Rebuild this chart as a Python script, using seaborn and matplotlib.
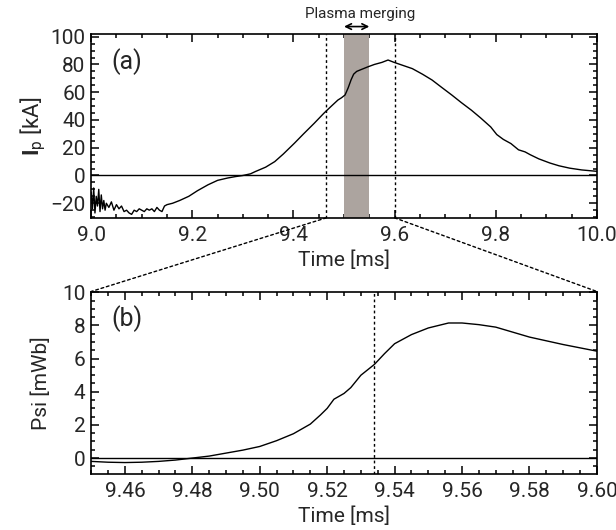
import numpy as np
import pandas as pd
import seaborn as sns
import matplotlib.pyplot as plt
from matplotlib.patches import ConnectionPatch
from matplotlib.ticker import MultipleLocator, FormatStrFormatter

# panel (a): plasma current, noisy start then a smooth pulse
t_a = [9.000, 9.0025, 9.005, 9.0075, 9.010, 9.0125, 9.015, 9.0175, 9.020, 9.0225,
       9.025, 9.0275, 9.030, 9.035, 9.040, 9.045, 9.050, 9.055, 9.060, 9.065,
       9.070, 9.075, 9.080, 9.085, 9.090, 9.095, 9.100, 9.105, 9.110, 9.115,
       9.120, 9.125, 9.130, 9.135, 9.140, 9.145, 9.150,
       9.161, 9.175, 9.193, 9.21, 9.231, 9.25, 9.27, 9.285, 9.30, 9.315, 9.325,
       9.345, 9.363, 9.38, 9.402, 9.42, 9.441, 9.46, 9.475, 9.488, 9.495, 9.502,
       9.508, 9.514, 9.519, 9.525, 9.535, 9.548, 9.56, 9.575, 9.587, 9.599,
       9.615, 9.635, 9.655, 9.674, 9.693, 9.713, 9.732, 9.752, 9.77, 9.79,
       9.802, 9.815, 9.83, 9.845, 9.858, 9.868, 9.885, 9.907, 9.925, 9.946,
       9.97, 10.0]
ip = [-12, -24, -9, -27, -15, -22, -10, -26, -14, -24,
      -18, -25, -20, -23, -19, -25, -21, -24, -22, -26,
      -25, -27, -28, -25, -26, -24, -25, -26, -24, -25,
      -24, -26, -23, -25, -26, -22, -21,
      -20, -18, -15, -11, -6.7, -3.5, -1.8, -0.8, 0, 1.2, 2.9,
      6, 10, 15.5, 23.3, 30, 37.6, 44.8, 50, 54.4, 56, 58,
      63, 69, 73, 75, 76.5, 78.4, 80, 81.5, 83.2, 81.5,
      79.5, 77, 73, 68.8, 63.5, 58, 52.5, 47, 41.5, 35,
      29.5, 26, 23, 18.5, 17, 15, 12, 9, 7, 5.3,
      4, 3]

# panel (b): flux
t_b = [9.45, 9.455, 9.46, 9.465, 9.47, 9.475, 9.48, 9.485, 9.49, 9.495, 9.50,
       9.505, 9.51, 9.515, 9.518, 9.52, 9.522, 9.525, 9.527, 9.53, 9.534,
       9.537, 9.54, 9.545, 9.55, 9.556, 9.56, 9.565, 9.57, 9.58, 9.59, 9.60]
psi = [-0.2, -0.25, -0.27, -0.25, -0.2, -0.12, 0.0, 0.12, 0.3, 0.48, 0.7,
       1.05, 1.47, 2.05, 2.6, 3.0, 3.55, 3.9, 4.25, 5.0, 5.65,
       6.3, 6.9, 7.45, 7.85, 8.15, 8.15, 8.05, 7.9, 7.3, 6.85, 6.45]

merge_start, merge_end = 9.50, 9.55
zoom_lo, zoom_hi = 9.465, 9.60
mark_b = 9.534

df_a = pd.DataFrame({"t": t_a, "ip": ip})
df_b = pd.DataFrame({"t": t_b, "psi": psi})

sns.set_style("ticks")
plt.rcParams['font.family'] = ['Roboto', 'DejaVu Sans']
plt.rcParams['mathtext.fontset'] = 'custom'
plt.rcParams['mathtext.rm'] = 'Roboto'
plt.rcParams['mathtext.bf'] = 'Roboto:bold'
plt.rcParams['axes.linewidth'] = 1.2

fig = plt.figure(figsize=(6.16, 5.30), dpi=100)
ax1 = fig.add_axes([0.148, 0.589, 0.821, 0.347])
ax2 = fig.add_axes([0.148, 0.106, 0.821, 0.344])

# (a)
ax1.axvspan(merge_start, merge_end, color='#aca49f', lw=0, zorder=1)
sns.lineplot(data=df_a, x="t", y="ip", ax=ax1, color='k', lw=1.0, zorder=3)
ax1.axhline(0, color='k', lw=1.0, zorder=2)
for xv in (zoom_lo, zoom_hi):
    ax1.axvline(xv, color='k', ls=(0, (2, 2)), lw=1, zorder=2)
ax1.set_xlim(9.0, 10.0)
ax1.set_ylim(-30.5, 102)
ax1.xaxis.set_major_locator(MultipleLocator(0.2))
ax1.xaxis.set_minor_locator(MultipleLocator(0.05))
ax1.xaxis.set_major_formatter(FormatStrFormatter('%.1f'))
ax1.yaxis.set_major_locator(MultipleLocator(20))
ax1.yaxis.set_minor_locator(MultipleLocator(5))
ax1.set_xlabel("Time [ms]", fontsize=15, labelpad=4)
ax1.set_ylabel(r"$\mathbf{I}_{\mathrm{p}}$ [kA]", fontsize=16, labelpad=2)
ax1.text(0.04, 0.81, "(a)", transform=ax1.transAxes, fontsize=18)

ax1.annotate("", xy=(merge_start, 1.04), xytext=(merge_end, 1.04),
             xycoords=('data', 'axes fraction'),
             arrowprops=dict(arrowstyle='<->', color='k', lw=1.2,
                             shrinkA=0, shrinkB=0), annotation_clip=False)
ax1.text((merge_start + merge_end) / 2 + 0.006, 1.11, "Plasma merging",
         transform=ax1.get_xaxis_transform(), ha='center', va='center', fontsize=11)

# (b)
sns.lineplot(data=df_b, x="t", y="psi", ax=ax2, color='k', lw=1.0, zorder=3)
ax2.axhline(0, color='k', lw=1.0, zorder=2)
ax2.axvline(mark_b, color='k', ls=(0, (2, 2)), lw=1, zorder=2)
ax2.set_xlim(9.45, 9.60)
ax2.set_ylim(-0.95, 10.05)
ax2.xaxis.set_major_locator(MultipleLocator(0.02))
ax2.xaxis.set_minor_locator(MultipleLocator(0.005))
ax2.xaxis.set_major_formatter(FormatStrFormatter('%.2f'))
ax2.yaxis.set_major_locator(MultipleLocator(2))
ax2.yaxis.set_minor_locator(MultipleLocator(0.5))
ax2.set_xlabel("Time [ms]", fontsize=15, labelpad=4)
ax2.set_ylabel("Psi [mWb]", fontsize=15, labelpad=8)
ax2.text(0.04, 0.81, "(b)", transform=ax2.transAxes, fontsize=18)

for ax in (ax1, ax2):
    ax.tick_params(which='both', direction='in', top=True, right=True,
                   labelsize=15, width=1.1, color='k')
    ax.tick_params(which='major', length=6)
    ax.tick_params(which='minor', length=3)
    ax.tick_params(axis='x', which='major', pad=6)
    ax.tick_params(axis='y', which='major', pad=4)
    for s in ax.spines.values():
        s.set_color('k')

# dotted zoom connectors
for xa, xb in ((zoom_lo, 0), (zoom_hi, 1)):
    con = ConnectionPatch(xyA=(xa, -30.5), coordsA="data", axesA=ax1,
                          xyB=(xb, 1), coordsB="axes fraction", axesB=ax2,
                          color='k', ls=(0, (2, 2)), lw=1)
    fig.add_artist(con)

fig.savefig("out.png", dpi=100)
